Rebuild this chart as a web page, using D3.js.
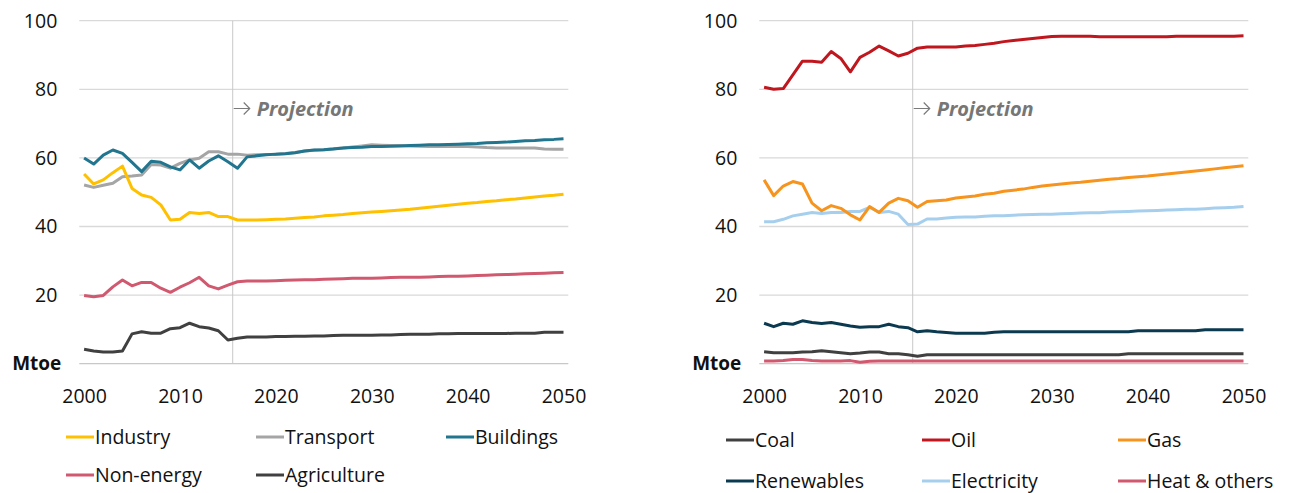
<!DOCTYPE html>
<html><head><meta charset="utf-8">
<script src="https://cdn.jsdelivr.net/npm/d3@7"></script>
<style>
body{margin:0;background:#fff;}
text{font-family:"Open Sans","Noto Sans",sans-serif;}
</style></head>
<body>
<svg id="chart" width="1291" height="493"></svg>
<script>
const years = d3.range(2000, 2051);
const tickYears = [2000, 2010, 2020, 2030, 2040, 2050];
const yTicks = [0, 20, 40, 60, 80, 100];
const projectionAfter = 2015;

// Left panel: by sector
const industry = [55.3,52.4,53.6,55.7,57.6,51.1,49.2,48.5,46.3,41.9,42.1,44.1,43.8,44.1,42.9,42.9,41.9,41.9,41.9,42.0,42.1,42.2,42.4,42.6,42.8,43.1,43.3,43.5,43.8,44.0,44.2,44.4,44.6,44.8,45.0,45.3,45.6,45.9,46.2,46.5,46.8,47.0,47.3,47.5,47.8,48.0,48.3,48.6,48.9,49.1,49.4];
const transport = [52.1,51.4,52.0,52.6,54.5,54.7,55.0,58.1,57.9,57.0,58.4,59.4,59.9,61.8,61.8,61.1,61.1,60.8,60.9,61.0,61.1,61.3,61.6,62.0,62.2,62.4,62.7,62.9,63.2,63.5,63.8,63.7,63.6,63.6,63.5,63.4,63.3,63.3,63.3,63.3,63.3,63.2,63.0,62.9,62.9,62.9,62.9,62.9,62.6,62.5,62.5];
const buildings = [60.0,58.2,60.8,62.3,61.3,58.7,56.0,59.0,58.7,57.4,56.5,59.4,57.0,59.1,60.6,58.9,57.0,60.3,60.6,60.9,61.1,61.2,61.5,62.0,62.3,62.4,62.6,62.9,63.0,63.1,63.3,63.3,63.4,63.5,63.6,63.7,63.8,63.8,63.9,64.0,64.1,64.2,64.4,64.5,64.6,64.8,65.0,65.1,65.3,65.4,65.6];
const nonEnergy = [19.9,19.5,19.9,22.4,24.4,22.7,23.7,23.7,22.0,20.8,22.3,23.6,25.2,22.7,21.8,22.9,23.9,24.1,24.1,24.1,24.2,24.3,24.4,24.5,24.5,24.6,24.7,24.8,24.9,24.9,24.9,25.0,25.1,25.2,25.2,25.2,25.3,25.4,25.5,25.5,25.6,25.7,25.8,25.9,26.0,26.1,26.2,26.3,26.4,26.5,26.6];
const agriculture = [4.2,3.7,3.4,3.4,3.7,8.7,9.3,8.9,8.9,10.2,10.5,11.8,10.8,10.4,9.6,6.9,7.4,7.8,7.8,7.8,7.9,7.9,8.0,8.0,8.1,8.1,8.2,8.3,8.3,8.3,8.3,8.4,8.4,8.5,8.6,8.6,8.6,8.7,8.7,8.8,8.8,8.8,8.8,8.8,8.8,8.9,8.9,8.9,9.2,9.2,9.2];

// Right panel: by fuel
const coal = [3.5,3.2,3.2,3.2,3.4,3.5,3.8,3.5,3.2,2.9,3.1,3.4,3.4,2.9,2.9,2.6,2.2,2.6,2.6,2.6,2.6,2.6,2.6,2.6,2.6,2.6,2.6,2.6,2.6,2.6,2.6,2.6,2.6,2.6,2.6,2.6,2.6,2.6,2.9,2.9,2.9,2.9,2.9,2.9,2.9,2.9,2.9,2.9,2.9,2.9,2.9];
const oil = [80.6,80.0,80.2,84.2,88.2,88.2,87.9,91.0,89.0,85.1,89.3,90.8,92.6,91.2,89.7,90.5,92.0,92.3,92.3,92.3,92.3,92.6,92.8,93.1,93.4,93.9,94.2,94.5,94.8,95.1,95.4,95.5,95.5,95.5,95.5,95.3,95.3,95.3,95.3,95.3,95.3,95.3,95.3,95.5,95.5,95.5,95.5,95.5,95.5,95.5,95.6];
const gas = [53.6,49.0,51.8,53.1,52.4,46.8,44.6,46.1,45.3,43.4,41.9,45.8,44.1,46.8,48.2,47.5,45.6,47.3,47.5,47.7,48.3,48.6,48.9,49.4,49.7,50.3,50.6,50.9,51.4,51.8,52.1,52.4,52.7,52.9,53.2,53.5,53.8,54.0,54.3,54.5,54.7,55.0,55.3,55.6,55.9,56.2,56.5,56.8,57.1,57.4,57.7];
const renewables = [11.8,10.8,11.8,11.5,12.5,12.0,11.7,12.0,11.5,11.0,10.6,10.8,10.8,11.5,10.8,10.5,9.3,9.6,9.3,9.1,8.9,8.9,8.9,8.9,9.2,9.3,9.3,9.3,9.3,9.3,9.3,9.3,9.3,9.3,9.3,9.3,9.3,9.3,9.3,9.6,9.6,9.6,9.6,9.6,9.6,9.6,9.9,9.9,9.9,9.9,9.9];
const electricity = [41.4,41.4,42.1,43.1,43.6,44.1,43.8,44.1,44.1,44.4,44.4,45.6,44.1,44.4,43.6,40.6,40.7,42.2,42.2,42.5,42.7,42.8,42.8,43.0,43.1,43.1,43.3,43.4,43.5,43.6,43.6,43.7,43.8,43.9,44.0,44.0,44.2,44.3,44.4,44.5,44.6,44.7,44.8,44.9,45.0,45.0,45.2,45.4,45.5,45.6,45.8];
const heatOthers = [0.8,0.8,0.9,1.2,1.2,0.9,0.8,0.8,0.8,0.9,0.4,0.7,0.8,0.8,0.8,0.8,0.8,0.8,0.8,0.8,0.8,0.8,0.8,0.8,0.8,0.8,0.8,0.8,0.8,0.8,0.8,0.8,0.8,0.8,0.8,0.8,0.8,0.8,0.8,0.8,0.8,0.8,0.8,0.8,0.8,0.8,0.8,0.8,0.8,0.8,0.8];

const leftSeries = [
  {name:"Transport", values:transport, color:"#A5A5A5"},
  {name:"Industry", values:industry, color:"#FFC000"},
  {name:"Buildings", values:buildings, color:"#21758F"},
  {name:"Non-energy", values:nonEnergy, color:"#D0596F"},
  {name:"Agriculture", values:agriculture, color:"#404040"}
];
const leftLegend = ["Industry","Transport","Buildings","Non-energy","Agriculture"];
const rightSeries = [
  {name:"Heat & others", values:heatOthers, color:"#D0596F"},
  {name:"Coal", values:coal, color:"#404040"},
  {name:"Renewables", values:renewables, color:"#0B3A50"},
  {name:"Electricity", values:electricity, color:"#A6CFEE"},
  {name:"Gas", values:gas, color:"#F7941D"},
  {name:"Oil", values:oil, color:"#C0161E"}
];
const rightLegend = ["Coal","Oil","Gas","Renewables","Electricity","Heat & others"];

const svg = d3.select("#chart");

function panel(x0, series, legendOrder, legendCols) {
  const g = svg.append("g");
  const x = d3.scaleBand().domain(years).range([x0, x0 + 489]);
  const y = d3.scaleLinear().domain([0, 100]).range([363.7, 20.7]);
  const cx = d => x(d) + x.bandwidth() / 2;

  // gridlines
  g.append("g").selectAll("line").data(yTicks).join("line")
    .attr("x1", x0).attr("x2", x0 + 489)
    .attr("y1", d => y(d)).attr("y2", d => y(d))
    .attr("stroke", d => d === 0 ? "#c8c8c8" : "#d9d9d9").attr("stroke-width", 1.3);

  // y tick labels
  g.append("g").selectAll("text").data(yTicks.filter(d => d > 0)).join("text")
    .attr("x", x0 - 22).attr("y", d => y(d)).attr("dy", "0.35em")
    .attr("text-anchor", "end").attr("font-size", 19.5).attr("fill", "#111")
    .text(d => d);
  g.append("text").attr("x", x0 - 18).attr("y", y(0)).attr("dy", "0.35em")
    .attr("text-anchor", "end").attr("font-size", 19).attr("font-weight", "bold").attr("fill", "#111")
    .text("Mtoe");

  // x axis labels
  const xa = d3.axisBottom(d3.scalePoint().domain(years).range([cx(2000), cx(2050)]))
    .tickValues(tickYears).tickSize(0).tickPadding(0);
  const ax = g.append("g").attr("transform", `translate(0,${396})`).call(xa);
  ax.select(".domain").remove();
  ax.selectAll("text").attr("font-size", 19.5).attr("fill", "#111").attr("dy", "0.35em").attr("y", 0);

  // projection line
  const px = x(projectionAfter) + x.bandwidth();
  g.append("line").attr("x1", px).attr("x2", px).attr("y1", y(100)).attr("y2", y(0))
    .attr("stroke", "#c8c8c8").attr("stroke-width", 1);
  const ay = 108.5;
  const ap = d3.path();
  ap.moveTo(px + 1, ay); ap.lineTo(px + 17, ay);
  ap.moveTo(px + 11, ay - 6); ap.lineTo(px + 17, ay); ap.lineTo(px + 11, ay + 6);
  g.append("path").attr("d", ap.toString()).attr("fill", "none")
    .attr("stroke", "#7a7a7a").attr("stroke-width", 1.2);
  g.append("text").attr("x", px + 24).attr("y", 109).attr("dy", "0.35em")
    .attr("font-size", 20).attr("font-weight", "bold").attr("font-style", "italic")
    .attr("fill", "#767676").text("Projection");

  // lines
  const line = d3.line().x((d, i) => cx(years[i])).y(d => y(d));
  g.append("g").selectAll("path").data(series).join("path")
    .attr("d", d => line(d.values)).attr("fill", "none")
    .attr("stroke", d => d.color).attr("stroke-width", 3)
    .attr("stroke-linejoin", "round");

  // legend
  const colorOf = Object.fromEntries(series.map(s => [s.name, s.color]));
  legendOrder.forEach((name, i) => {
    const col = i % legendCols.cols, row = Math.floor(i / legendCols.cols);
    const lx = legendCols.x0 + col * legendCols.dx, ly = legendCols.rows[row];
    g.append("line").attr("x1", lx).attr("x2", lx + 28).attr("y1", ly).attr("y2", ly)
      .attr("stroke", colorOf[name]).attr("stroke-width", 3);
    g.append("text").attr("x", lx + 29).attr("y", ly).attr("dy", "0.35em")
      .attr("font-size", 19.5).attr("fill", "#111").text(name);
  });
}

panel(79.3, leftSeries, leftLegend, {cols:3, x0:66, dx:190, rows:[437, 475]});
panel(759.3, rightSeries, rightLegend, {cols:3, x0:726, dx:196, rows:[440, 481]});
</script>
</body></html>
